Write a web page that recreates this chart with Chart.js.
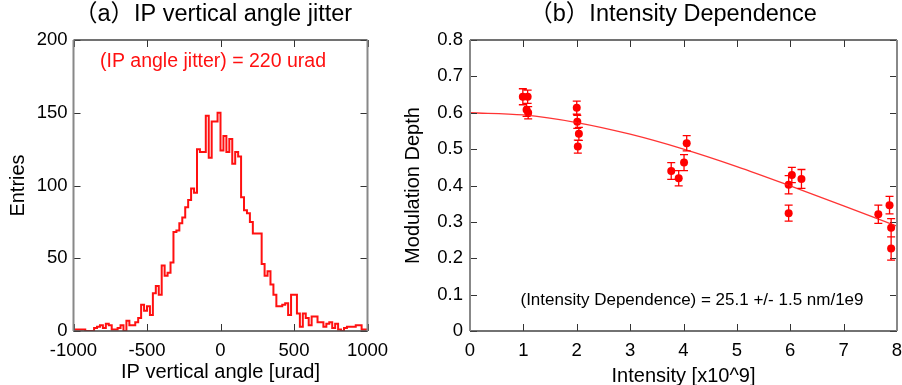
<!DOCTYPE html>
<html><head><meta charset="utf-8">
<script src="https://cdn.jsdelivr.net/npm/chart.js@4/dist/chart.umd.min.js"></script>
<style>
html,body{margin:0;padding:0;background:#fff;}
#wrap{position:relative;width:902px;height:385px;overflow:hidden;background:#fff;}
canvas{position:absolute;left:0;top:0;}
</style></head><body>
<div id="wrap"><canvas id="c1" width="902" height="385"></canvas><canvas id="c2" width="902" height="385"></canvas></div>
<script>
// ---------- Data: (a) histogram ----------
const binLow = -1000;
const binWidth = 20;
const counts = [1,1,1,1,1,0,0,0,2,3, 4,2,5,4,1,1,2,4,0,7,
  4,4,6,9,18,14,17,11,26,31, 25,45,38,40,47,68,69,74,78,85,
  90,98,95,125,123,123,148,119,144,144, 150,124,134,123,132,115,123,120,92,83,
  81,75,67,67,67,46,38,41,32,25, 17,17,18,19,11,25,25,12,3,12,
  9,4,10,10,6,6,3,5,6,2, 5,1,0,2,3,3,3,4,4,1];
const histXTicks = [-1000, -500, 0, 500, 1000];
const histYTicks = [0, 50, 100, 150, 200];

// ---------- Data: (b) intensity dependence ----------
const intensity = [0.99,1.08,1.06,1.09, 2.00,2.01,2.04,2.02, 3.77,3.91,4.01,4.06, 5.97,6.03,5.97,6.21, 7.65,7.86,7.89,7.89];
const modDepth  = [0.644,0.644,0.608,0.600, 0.614,0.575,0.542,0.507, 0.440,0.420,0.463,0.516, 0.402,0.429,0.324,0.418, 0.321,0.346,0.284,0.227];
const modErr    = [0.022,0.018,0.018,0.017, 0.018,0.018,0.018,0.018, 0.023,0.021,0.022,0.021, 0.025,0.021,0.022,0.026, 0.025,0.024,0.025,0.032];
const fitX = [0, 1, 2, 3, 4, 5, 6, 7, 8];
const fitY = [0.600, 0.594, 0.573, 0.541, 0.500, 0.452, 0.399, 0.344, 0.288];
const intTicks = [0,1,2,3,4,5,6,7,8];
const depthTicks = [0,0.1,0.2,0.3,0.4,0.5,0.6,0.7,0.8];

const FONT = "'Liberation Sans', Arial, 'Noto Sans CJK JP', sans-serif";
const tickFont = {family: FONT, size: 18.5};
const axisTitleFont = {family: FONT, size: 20};

const framePlugin = {
  id: 'frame',
  afterDatasetsDraw(chart) {
    const {ctx, chartArea: a, scales} = chart;
    const L = 7;
    ctx.save();
    ctx.strokeStyle = '#333';
    ctx.lineWidth = 1;
    ctx.beginPath();
    scales.x.ticks.forEach(t => {
      const px = Math.round(scales.x.getPixelForValue(t.value)) + 0.5;
      ctx.moveTo(px, a.bottom); ctx.lineTo(px, a.bottom - L);
      ctx.moveTo(px, a.top); ctx.lineTo(px, a.top + L);
    });
    scales.y.ticks.forEach(t => {
      const py = Math.round(scales.y.getPixelForValue(t.value)) + 0.5;
      ctx.moveTo(a.left, py); ctx.lineTo(a.left + L, py);
      ctx.moveTo(a.right, py); ctx.lineTo(a.right - L, py);
    });
    ctx.stroke();
    ctx.lineWidth = 1.5;
    ctx.strokeStyle = '#444';
    ctx.beginPath();
    ctx.moveTo(a.left, a.top); ctx.lineTo(a.right, a.top);
    ctx.moveTo(a.left, a.bottom); ctx.lineTo(a.right, a.bottom);
    ctx.stroke();
    ctx.lineWidth = 2;
    ctx.strokeStyle = '#888';
    ctx.beginPath();
    ctx.moveTo(a.left, a.top); ctx.lineTo(a.left, a.bottom);
    ctx.moveTo(a.right, a.top); ctx.lineTo(a.right, a.bottom);
    ctx.stroke();
    ctx.restore();
  }
};

const textPlugin = {
  id: 'texts',
  afterDraw(chart, args, opts) {
    const ctx = chart.ctx;
    ctx.save();
    (opts.items || []).forEach(it => {
      ctx.font = it.font;
      ctx.fillStyle = it.color;
      ctx.textAlign = 'center';
      ctx.textBaseline = 'middle';
      ctx.fillText(it.text, it.x, it.y);
    });
    ctx.restore();
  }
};

const errPlugin = {
  id: 'errbars',
  afterDatasetsDraw(chart) {
    const {ctx, scales} = chart;
    ctx.save();
    ctx.strokeStyle = '#ff0000';
    ctx.lineWidth = 1.3;
    ctx.beginPath();
    intensity.forEach((x, i) => {
      const px = scales.x.getPixelForValue(x);
      const y1 = scales.y.getPixelForValue(modDepth[i] + modErr[i]);
      const y2 = scales.y.getPixelForValue(modDepth[i] - modErr[i]);
      ctx.moveTo(px, y1); ctx.lineTo(px, y2);
      ctx.moveTo(px - 4, y1); ctx.lineTo(px + 4, y1);
      ctx.moveTo(px - 4, y2); ctx.lineTo(px + 4, y2);
    });
    ctx.stroke();
    ctx.restore();
  }
};

const fixX = s => { s.height = 54; s.paddingLeft = 0; s.paddingRight = 0; };
const fixY = w => s => { s.width = w; s.paddingTop = 0; s.paddingBottom = 0; };

// ---------- Chart (a) ----------
const histPts = counts.map((v, i) => ({x: binLow + i * binWidth, y: v}));
histPts.push({x: binLow + counts.length * binWidth, y: counts[counts.length - 1]});

new Chart(document.getElementById('c1'), {
  type: 'line',
  data: {datasets: [{
    data: histPts, stepped: 'after', borderColor: '#ff1010', borderWidth: 2,
    pointRadius: 0, fill: false
  }]},
  options: {
    responsive: false, animation: false,
    layout: {padding: {left: 0, top: 40, right: 534.5, bottom: 0}},
    plugins: {
      legend: {display: false}, tooltip: {enabled: false},
      texts: {items: [
        {text: '（a）IP vertical angle jitter', x: 213, y: 15, font: "23.5px " + FONT, color: '#000'},
        {text: '(IP angle jitter) = 220 urad', x: 213, y: 62, font: "19.5px " + FONT, color: '#ff1010'}
      ]}
    },
    scales: {
      x: {
        type: 'linear', min: -1000, max: 1000,
        afterBuildTicks: s => { s.ticks = histXTicks.map(v => ({value: v})); },
        afterFit: fixX,
        grid: {display: false, drawTicks: false}, border: {display: false},
        ticks: {font: tickFont, color: '#000', padding: 9, maxRotation: 0, autoSkip: false, callback: v => String(v)},
        title: {display: true, text: 'IP vertical angle [urad]', font: axisTitleFont, color: '#000', padding: {top: 0, bottom: 1}}
      },
      y: {
        type: 'linear', min: 0, max: 200,
        afterBuildTicks: s => { s.ticks = histYTicks.map(v => ({value: v})); },
        afterFit: fixY(73.5),
        grid: {display: false, drawTicks: false}, border: {display: false},
        ticks: {font: tickFont, color: '#000', padding: 6, callback: v => String(v)},
        title: {display: true, text: 'Entries', font: axisTitleFont, color: '#000', padding: {top: 6, bottom: 0}}
      }
    }
  },
  plugins: [framePlugin, textPlugin]
});

// ---------- Chart (b) ----------
new Chart(document.getElementById('c2'), {
  type: 'scatter',
  data: {datasets: [
    {type: 'line', data: fitX.map((x, i) => ({x: x, y: fitY[i]})), borderColor: 'rgba(255,30,30,0.9)', borderWidth: 1.3,
     pointRadius: 0, cubicInterpolationMode: 'monotone', fill: false},
    {data: intensity.map((x, i) => ({x: x, y: modDepth[i]})), pointRadius: 4, backgroundColor: '#ff0000', borderWidth: 0}
  ]},
  options: {
    responsive: false, animation: false,
    layout: {padding: {left: 395, top: 40, right: 5, bottom: 0}},
    plugins: {
      legend: {display: false}, tooltip: {enabled: false},
      texts: {items: [
        {text: '（b）Intensity Dependence', x: 673, y: 15, font: "23.5px " + FONT, color: '#000'},
        {text: '(Intensity Dependence) = 25.1 +/- 1.5 nm/1e9', x: 692, y: 300, font: "17px " + FONT, color: '#000'}
      ]}
    },
    scales: {
      x: {
        type: 'linear', min: 0, max: 8,
        afterBuildTicks: s => { s.ticks = intTicks.map(v => ({value: v})); },
        afterFit: fixX,
        grid: {display: false, drawTicks: false}, border: {display: false},
        ticks: {font: tickFont, color: '#000', padding: 9, maxRotation: 0, autoSkip: false, callback: v => String(v)},
        title: {display: true, text: 'Intensity [x10^9]', font: axisTitleFont, color: '#000', padding: {top: 0, bottom: -3}}
      },
      y: {
        type: 'linear', min: 0, max: 0.8,
        afterBuildTicks: s => { s.ticks = depthTicks.map(v => ({value: v})); },
        afterFit: fixY(75),
        grid: {display: false, drawTicks: false}, border: {display: false},
        ticks: {font: tickFont, color: '#000', padding: 7, callback: v => String(+v.toFixed(1))},
        title: {display: true, text: 'Modulation Depth', font: axisTitleFont, color: '#000', padding: {top: 6, bottom: 0}}
      }
    }
  },
  plugins: [framePlugin, errPlugin, textPlugin]
});
</script>
</body></html>
